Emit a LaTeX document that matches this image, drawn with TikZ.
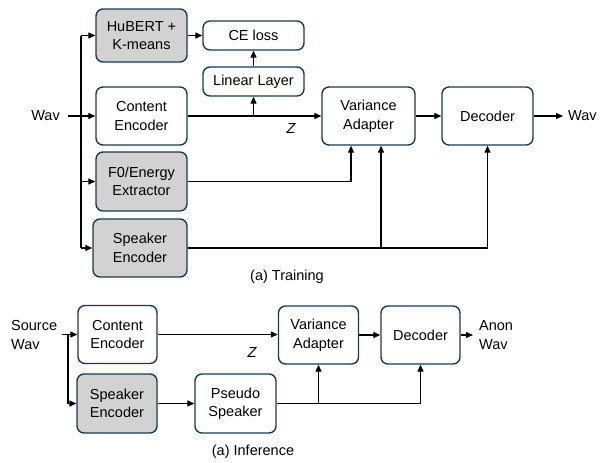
\documentclass[tikz,border=0pt]{standalone}
\usepackage{fontspec}
\setmainfont{Liberation Sans}
\usetikzlibrary{arrows.meta}
\definecolor{bord}{HTML}{1B3A4B}
\definecolor{gfill}{HTML}{D2D2D2}
\tikzset{
  blk/.style={draw=bord, line width=1.4pt, rounded corners=7pt, align=center, inner sep=0pt, font=\fontsize{14.5}{18.5}\selectfont},
  gblk/.style={blk, fill=gfill},
  lbl/.style={inner sep=0pt, font=\fontsize{14.5}{18.5}\selectfont, align=left},
  conn/.style={line width=1.3pt, -{Triangle[length=7pt,width=6pt]}},
  plain/.style={line width=1.3pt},
}
\begin{document}
\begin{tikzpicture}[x=1pt,y=-1pt]
\useasboundingbox (0,0) rectangle (606,463);
% ---------- Training ----------
\node[gblk, minimum width=91pt, minimum height=53pt] (hub) at (141.5,35.5) {HuBERT +\\K-means};
\node[blk, minimum width=101pt, minimum height=29pt] (ce) at (253.5,35.5) {CE loss};
\node[blk, minimum width=101pt, minimum height=29pt] (lin) at (253.5,81.5) {Linear Layer};
\node[blk, minimum width=91pt, minimum height=58pt] (cenc) at (141.5,116) {Content\\Encoder};
\node[blk, minimum width=93pt, minimum height=58pt] (va) at (368.5,116) {Variance\\Adapter};
\node[blk, minimum width=91pt, minimum height=58pt] (dec) at (487.5,116) {Decoder};
\node[gblk, minimum width=91pt, minimum height=59pt] (f0) at (141.5,181.5) {F0/Energy\\Extractor};
\node[gblk, minimum width=94pt, minimum height=58pt] (spk) at (140,248) {Speaker\\Encoder};
\node[lbl, anchor=east] (win) at (60,116) {Wav};
\node[lbl, anchor=west] (wout) at (568,116) {Wav};
\node[lbl, font=\fontsize{14.5}{18.5}\selectfont\itshape] (z1) at (291,129) {Z};
\node[lbl] (cap1) at (287,277) {(a) Training};

\coordinate (s0) at (68,116);
\coordinate (vtop) at (81,35.5);
\coordinate (vbot) at (81,248);
\draw[conn] (s0) -- (cenc.west);
\draw[plain] (vtop) -- (vbot);
\draw[conn] (vtop) -- (hub.west);
\draw[conn] (vbot |- f0.west) -- (f0.west);
\draw[conn] (vbot) -- (spk.west);
\draw[conn] (hub.east) -- (ce.west);
\draw[conn] (lin.north) -- (ce.south);
\draw[conn] (cenc.east) -- (va.west);
\draw[conn] (lin.south |- cenc.east) -- (lin.south);
\draw[conn] (va.east) -- (dec.west);
\draw[conn, shorten >=5pt] (dec.east) -- (wout.west);
\draw[conn] (f0.east) -| (351,0 |- va.south);
\draw[plain] (spk.east) -- (dec.south |- spk.east);
\draw[conn] (dec.south |- spk.east) -- (dec.south);
\draw[conn] (381,248) -- (381,0 |- va.south);

% ---------- Inference ----------
\node[blk, minimum width=79pt, minimum height=58pt] (icenc) at (117.5,334.5) {Content\\Encoder};
\node[gblk, minimum width=80pt, minimum height=59pt] (ispk) at (117,403.5) {Speaker\\Encoder};
\node[blk, minimum width=81pt, minimum height=59pt] (ps) at (235.5,403.5) {Pseudo\\Speaker};
\node[blk, minimum width=80pt, minimum height=58pt] (iva) at (318.5,335) {Variance\\Adapter};
\node[blk, minimum width=79pt, minimum height=58pt] (idec) at (420.5,335) {Decoder};
\node[lbl, anchor=west] (src) at (11,335) {Source\\Wav};
\node[lbl, anchor=west] (anon) at (479,335) {Anon\\Wav};
\node[lbl, font=\fontsize{14.5}{18.5}\selectfont\itshape] (z2) at (252,353) {Z};
\node[lbl] (cap2) at (253,452) {(a) Inference};

\coordinate (t0) at (62,334.5);
\coordinate (tv) at (68,334.5);
\draw[conn] (t0) -- (icenc.west);
\draw[plain] (tv) -- (68,403.5);
\draw[conn] (68,403.5) -- (ispk.west);
\draw[conn] (icenc.east) -- (iva.west |- icenc.east);
\draw[conn] (ispk.east) -- (ps.west);
\draw[conn] (iva.east) -- (idec.west);
\draw[conn, shorten >=6pt] (idec.east) -- (anon.west);
\draw[plain] (ps.east) -- (idec.south |- ps.east);
\draw[conn] (idec.south |- ps.east) -- (idec.south);
\draw[conn] (iva.south |- ps.east) -- (iva.south);
\end{tikzpicture}
\end{document}
